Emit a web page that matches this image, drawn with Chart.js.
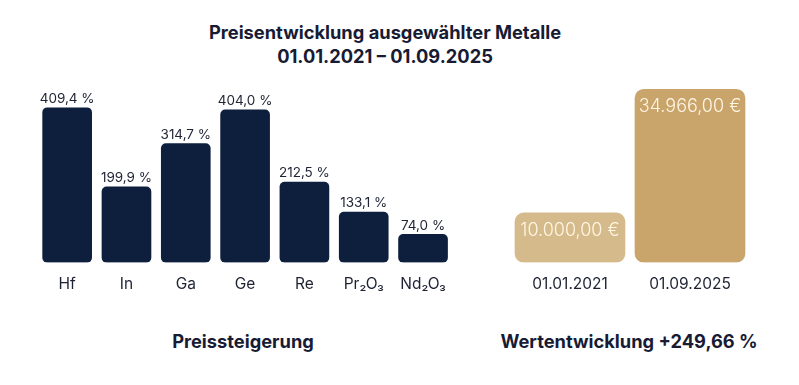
<!DOCTYPE html>
<html><head><meta charset="utf-8">
<script src="https://cdn.jsdelivr.net/npm/chart.js@4/dist/chart.umd.min.js"></script>
<style>
html,body{margin:0;padding:0;background:#fff;}
#wrap{position:relative;width:799px;height:385px;overflow:hidden;font-family:Inter,sans-serif;}
.cv{position:absolute;left:0;top:0;width:799px;height:385px;}
.t{position:absolute;white-space:nowrap;font-weight:700;color:#171b33;transform:translateX(-50%);}
</style></head>
<body><div id="wrap">
<div class="t" style="left:385px;top:20px;font-size:18.3px;line-height:24px;text-align:center;">Preisentwicklung ausgewählter Metalle<br>01.01.2021 – 01.09.2025</div>
<div class="t" style="left:243px;top:329px;font-size:18.3px;line-height:24px;">Preissteigerung</div>
<div class="t" style="left:629px;top:329px;font-size:18.3px;line-height:24px;">Wertentwicklung +249,66 %</div>
<div class="cv"><canvas id="c1" width="799" height="385"></canvas></div>
<div class="cv"><canvas id="c2" width="799" height="385"></canvas></div>
</div>
<script>
const metals = ["Hf","In","Ga","Ge","Re","Pr₂O₃","Nd₂O₃"];
const increasePct = [409.4,199.9,314.7,404.0,212.5,133.1,74.0];
const dates = ["01.01.2021","01.09.2025"];
const portfolioEur = [10000,34966];

const fmtPct = v => v.toFixed(1).replace('.', ',') + ' %';
const fmtEur = v => v.toFixed(2).replace('.', ',').replace(/\B(?=(\d{3})+(?!\d))/g, '.') + ' €';

const labelPlugin = {
  id:'valLabels',
  afterDatasetsDraw(chart, args, opts){
    const ctx = chart.ctx;
    const meta = chart.getDatasetMeta(0);
    const data = chart.data.datasets[0].data;
    ctx.save();
    ctx.font = opts.font;
    ctx.fillStyle = opts.color;
    ctx.textAlign = 'center';
    ctx.textBaseline = 'middle';
    meta.data.forEach((bar,i)=>{
      ctx.fillText(opts.fmt(data[i]), bar.x, bar.y + opts.offset);
    });
    ctx.restore();
  }
};

const common = (padding, ymax) => ({
  responsive:false, animation:false,
  events:[],
  layout:{padding},
  plugins:{legend:{display:false},tooltip:{enabled:false}},
  scales:{
    x:{grid:{display:false,drawTicks:false},border:{display:false},
       ticks:{padding:13,color:'#1e2233',font:{family:'Inter',size:15.5}}},
    y:{display:false,min:0,max:ymax}
  }
});

const o1 = common({left:37.5,right:346.3,top:92.4,bottom:78},450);
o1.plugins.valLabels = {font:'400 13.5px Inter',color:'#1e2233',offset:-9,fmt:fmtPct};
new Chart(document.getElementById('c1'),{
  type:'bar',
  data:{labels:metals,datasets:[{data:increasePct,backgroundColor:'#0d1f3c',
    borderRadius:5,borderSkipped:false,barThickness:49}]},
  options:o1, plugins:[labelPlugin]
});

const o2 = common({left:510,right:49,top:84.2,bottom:78},36000);
o2.plugins.valLabels = {font:'300 18px Inter',color:'#fff6e4',offset:17.5,fmt:fmtEur};
new Chart(document.getElementById('c2'),{
  type:'bar',
  data:{labels:dates,datasets:[{data:portfolioEur,backgroundColor:['#d5ba8b','#c9a56c'],
    borderRadius:9,borderSkipped:false,barThickness:110}]},
  options:o2, plugins:[labelPlugin]
});
</script>
</body></html>
